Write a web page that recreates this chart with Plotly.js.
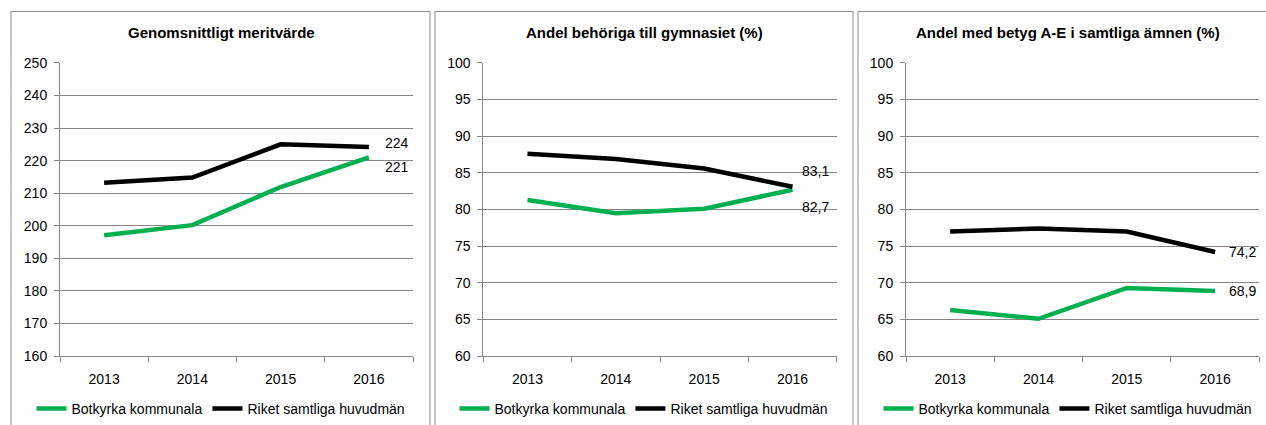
<!DOCTYPE html>
<html>
<head>
<meta charset="utf-8">
<script src="https://cdn.plot.ly/plotly-3.0.1.min.js"></script>
<style>html,body{margin:0;padding:0;background:#fff;}#chart{width:1266px;height:425px;}</style>
</head>
<body>
<div id="chart"></div>
<script>
// ---- Data ----
const years = [2013, 2014, 2015, 2016];
const yearLabels = ["2013", "2014", "2015", "2016"];
const seriesNames = ["Botkyrka kommunala", "Riket samtliga huvudmän"];
const titles = ["Genomsnittligt meritvärde", "Andel behöriga till gymnasiet (%)", "Andel med betyg A-E i samtliga ämnen (%)"];

const meritBotkyrka = [197.1, 200.2, 211.9, 221];
const meritRiket    = [213.2, 214.8, 225.0, 224.2];
const behorigBotkyrka = [81.3, 79.5, 80.1, 82.7];
const behorigRiket    = [87.6, 86.9, 85.6, 83.1];
const betygBotkyrka = [66.3, 65.1, 69.3, 68.9];
const betygRiket    = [77.0, 77.4, 77.0, 74.2];

const labelsMerit   = ["221", "224"];
const labelsBehorig = ["82,7", "83,1"];
const labelsBetyg   = ["68,9", "74,2"];

const yRanges = [[160, 250], [60, 100]];
const yDtick  = [10, 5];

// ---- Layout / styling ----
const W = 1266, H = 425;
const colors = ["#00B050", "#000000"];
const gridColor = "#868686";
const font = "Liberation Sans, Arial, sans-serif";

const panels = [
  {bot: meritBotkyrka, rik: meritRiket, labels: labelsMerit, yr: yRanges[0], dt: yDtick[0],
   plot: [60, 413], box: [11, 430], center: 221,
   off: [{dx: 14, dy: -10}, {dx: 14, dy: 4}]},
  {bot: behorigBotkyrka, rik: behorigRiket, labels: labelsBehorig, yr: yRanges[1], dt: yDtick[1],
   plot: [483.3, 836.7], box: [435, 853], center: 644,
   off: [{dx: 7, dy: -17}, {dx: 7, dy: 16}]},
  {bot: betygBotkyrka, rik: betygRiket, labels: labelsBetyg, yr: yRanges[1], dt: yDtick[1],
   plot: [906, 1259.3], box: [858, 1290], center: 1068,
   off: [{dx: 12, dy: 0}, {dx: 12, dy: 0}]}
];

const xRange = [years[0] - 0.5, years[years.length - 1] + 0.5];
const boundaries = [years[0] - 0.5].concat(years.map(v => v + 0.5));

const traces = [];
const layout = {
  width: W, height: H,
  margin: {l: 0, r: 0, t: 0, b: 0},
  paper_bgcolor: "#fff", plot_bgcolor: "#fff",
  font: {family: font, size: 14, color: "#000"},
  showlegend: true,
  annotations: [], shapes: []
};
const yTop = 1 - 63 / H, yBot = 1 - 357 / H;

panels.forEach((p, i) => {
  const n = i + 1;
  const xa = n === 1 ? "x" : "x" + n, ya = n === 1 ? "y" : "y" + n;
  const leg = n === 1 ? "legend" : "legend" + n;
  [p.bot, p.rik].forEach((vals, s) => {
    traces.push({
      type: "scatter", mode: "lines", x: years, y: vals,
      name: seriesNames[s], xaxis: xa, yaxis: ya, legend: leg,
      line: {color: colors[s], width: 4.5},
      hoverinfo: "skip"
    });
    layout.annotations.push({
      x: years[years.length - 1], y: vals[vals.length - 1], xref: xa, yref: ya,
      text: p.labels[s], showarrow: false, xanchor: "left", yanchor: "middle",
      xshift: p.off[s].dx, yshift: p.off[s].dy,
      font: {family: font, size: 14, color: "#000"}
    });
  });
  layout["xaxis" + (n === 1 ? "" : n)] = {
    domain: [p.plot[0] / W, p.plot[1] / W], anchor: ya, type: "linear",
    range: xRange, tickmode: "array", tickvals: years, ticktext: yearLabels,
    showgrid: false, zeroline: false, showline: true, linecolor: gridColor, linewidth: 1,
    ticks: "", ticklabelstandoff: 10,
    minor: {tickmode: "array", tickvals: boundaries, ticks: "outside", ticklen: 5, tickcolor: gridColor, showgrid: false},
    tickfont: {family: font, size: 14, color: "#000"}, fixedrange: true
  };
  layout["yaxis" + (n === 1 ? "" : n)] = {
    domain: [yBot, yTop], anchor: xa, range: p.yr, dtick: p.dt, tick0: p.yr[0],
    showgrid: true, gridcolor: gridColor, gridwidth: 1, zeroline: false,
    showline: true, linecolor: gridColor, linewidth: 1,
    ticks: "outside", ticklen: 5, tickcolor: gridColor, ticklabelstandoff: 4,
    tickfont: {family: font, size: 14, color: "#000"}, fixedrange: true
  };
  layout[leg] = {
    orientation: "h", x: p.center / W, xanchor: "center", y: 1 - 410 / H, yanchor: "middle",
    font: {family: font, size: 14, color: "#000"}, bgcolor: "rgba(0,0,0,0)",
    itemwidth: 30, tracegroupgap: 0
  };
  layout.annotations.push({
    text: "<b>" + titles[i] + "</b>", xref: "paper", yref: "paper",
    x: p.center / W, y: 1 - 33 / H, xanchor: "center", yanchor: "middle",
    showarrow: false, font: {family: font, size: 15, color: "#000"}
  });
  layout.shapes.push({
    type: "rect", xref: "paper", yref: "paper",
    x0: p.box[0] / W, x1: p.box[1] / W, y0: -0.05, y1: 1 - 11.5 / H,
    line: {color: "#8c8c8c", width: 1}, fillcolor: "rgba(0,0,0,0)", layer: "below"
  });
});

Plotly.newPlot("chart", traces, layout, {displayModeBar: false, staticPlot: true});
</script>
</body>
</html>
